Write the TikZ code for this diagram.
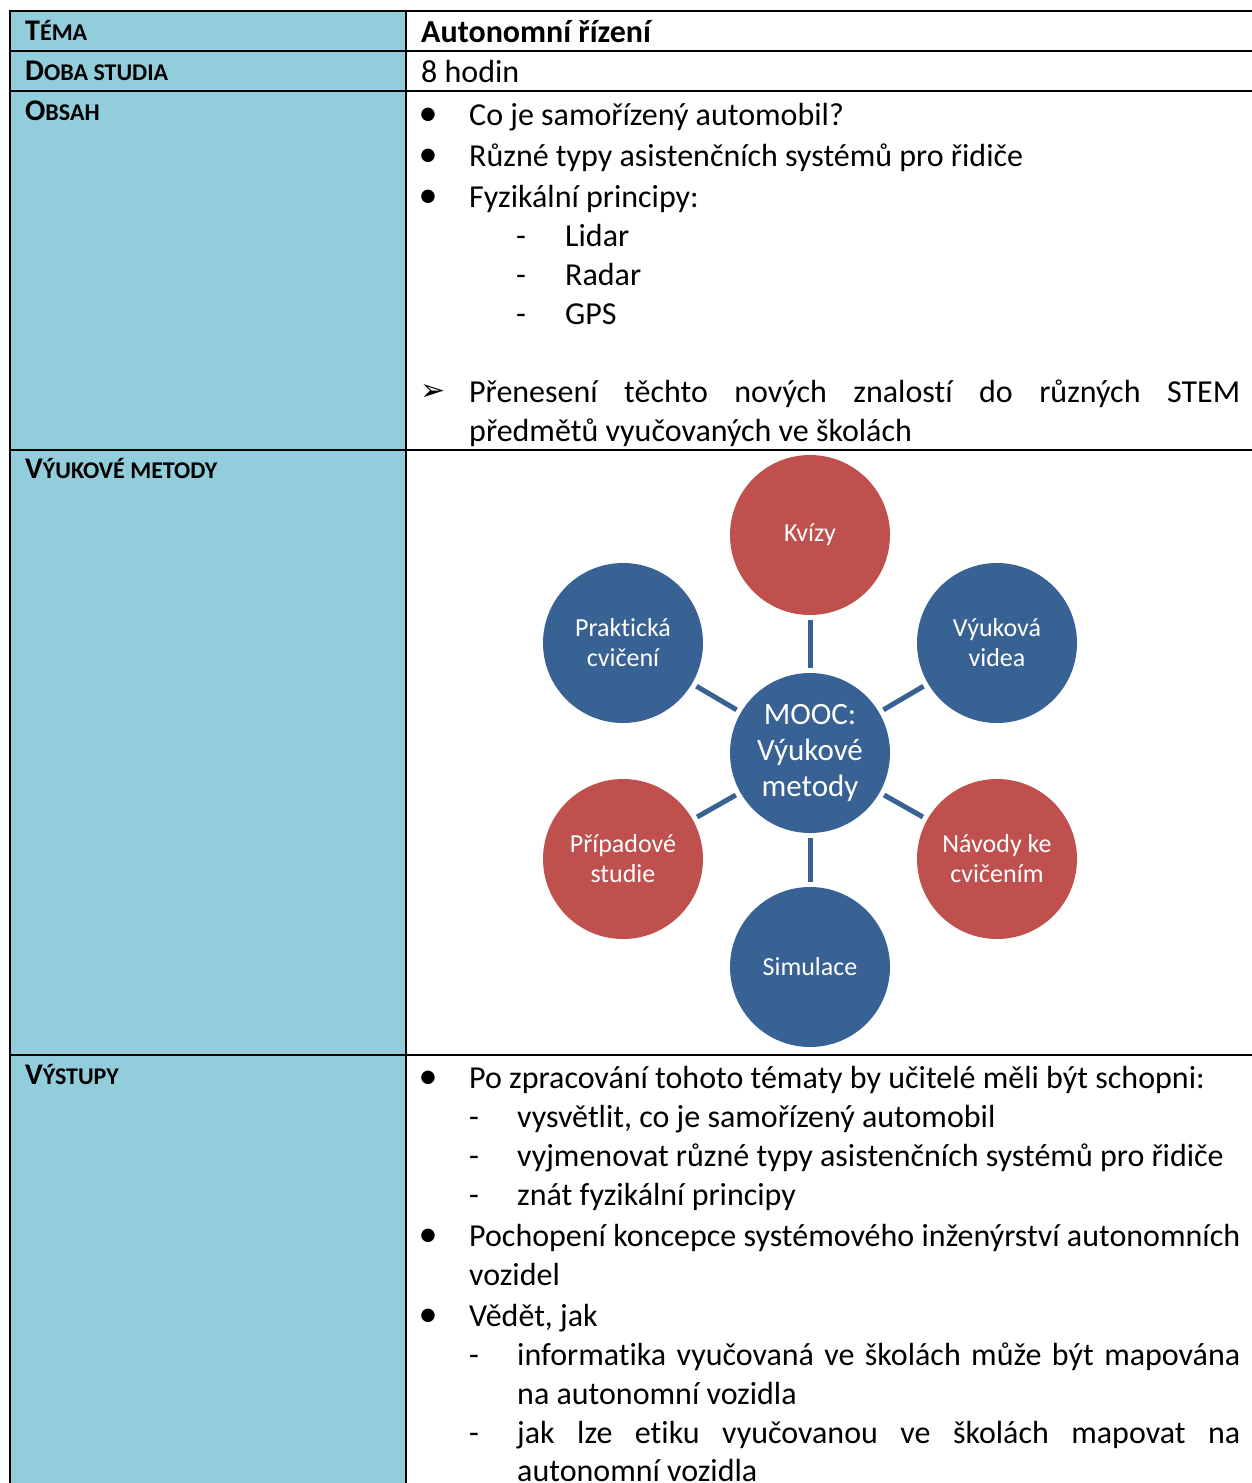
\documentclass[tikz,border=0pt]{standalone}
\usepackage{fontspec}
\setmainfont{Carlito}[Ligatures=NoCommon]
\newfontfamily\dingfont{DejaVu Sans}
\definecolor{cellblue}{HTML}{92CDDC}
\definecolor{nodeblue}{HTML}{386194}
\definecolor{nodered}{HTML}{C0504D}
% fake small caps for the row headings
\newcommand\smc[2]{{\fontsize{30}{36}\selectfont #1}{\fontsize{24}{30}\selectfont #2}}
\begin{document}
\begin{tikzpicture}[x=1pt,y=-1pt,
  body/.style={anchor=base west, inner sep=0pt, font=\fontsize{32}{39}\selectfont},
  lab/.style={anchor=base west, inner sep=0pt, font=\bfseries},
  bul/.style={anchor=base, inner sep=0pt, font=\fontsize{38}{39}\selectfont},
  dsh/.style={anchor=base, inner sep=0pt, font=\fontsize{32}{39}\selectfont},
  method/.style={circle, minimum size=160pt, inner sep=0pt, text=white, align=center,
    font=\fontsize{26}{30}\selectfont},
  bluem/.style={method, fill=nodeblue},
  redm/.style={method, fill=nodered},
  hub/.style={method, fill=nodeblue, font=\fontsize{31}{36}\selectfont},
  link/.style={line width=5pt, draw=nodeblue, shorten <=5pt, shorten >=5pt},
  rule/.style={line width=2pt, draw=black}
]
\useasboundingbox (0,0) rectangle (1252,1483);
\clip (0,0) rectangle (1252,1483);

% table background and rules
\fill[cellblue] (10,11) rectangle (406,1483);
\foreach \yy in {11,51,91,450,1055}
  \draw[rule] (9,\yy) -- (1252,\yy);
\draw[rule] (10,10) -- (10,1483);
\draw[rule] (406,11) -- (406,1483);

% row headings
\node[lab] (hTema)  at (25,40)   {\smc{T}{ÉMA}};
\node[lab] (hDoba)  at (25,80)   {\smc{D}{OBA STUDIA}};
\node[lab] (hObsah) at (25,120)  {\smc{O}{BSAH}};
\node[lab] (hMet)   at (25,478)  {\smc{V}{ÝUKOVÉ METODY}};
\node[lab] (hVys)   at (25,1084) {\smc{V}{ÝSTUPY}};

% topic and duration
\node[body, font=\fontsize{32}{39}\selectfont\bfseries] (tema) at (421,42) {Autonomní řízení};
\node[body] (doba) at (421,82) {8 hodin};

% contents
\node[bul] (b1) at (428,125) {•};
\node[body] (o1) at (469,125) {Co je samořízený automobil?};
\node[bul] (b2) at (428,166) {•};
\node[body] (o2) at (469,166) {Různé typy asistenčních systémů pro řidiče};
\node[bul] (b3) at (428,207) {•};
\node[body] (o3) at (469,207) {Fyzikální principy:};
\node[dsh] (d1) at (521,246) {-};
\node[body] (o4) at (565,246) {Lidar};
\node[dsh] (d2) at (521,285) {-};
\node[body] (o5) at (565,285) {Radar};
\node[dsh] (d3) at (521,324) {-};
\node[body] (o6) at (565,324) {GPS};
\node[anchor=base, inner sep=0pt, font=\dingfont\fontsize{30}{36}\selectfont] (ar) at (433,400) {➢};
\node[body] (o7) at (469,402) {\makebox[771pt][s]{Přenesení těchto nových znalostí do různých STEM}};
\node[body] (o8) at (469,441) {předmětů vyučovaných ve školách};

% teaching methods
\node[hub]   (hub)   at (810,753) {MOOC:\\Výukové\\metody};
\node[redm]  (kviz)  at (810,535) {Kvízy};
\node[bluem] (prak)  at (623,643) {Praktická\\cvičení};
\node[bluem] (video) at (997,643) {Výuková\\videa};
\node[redm]  (pripad) at (623,859) {Případové\\studie};
\node[redm]  (navod) at (997,859) {Návody ke\\cvičením};
\node[bluem] (sim)   at (810,967) {Simulace};
\foreach \m in {kviz,prak,video,pripad,navod,sim}
  \draw[link] (hub) -- (\m);

% outcomes
\node[bul] (c1) at (428,1088) {•};
\node[body] (v1) at (469,1088) {Po zpracování tohoto tématy by učitelé měli být schopni:};
\node[dsh] (e1) at (474,1127) {-};
\node[body] (v2) at (517,1127) {vysvětlit, co je samořízený automobil};
\node[dsh] (e2) at (474,1166) {-};
\node[body] (v3) at (517,1166) {vyjmenovat různé typy asistenčních systémů pro řidiče};
\node[dsh] (e3) at (474,1205) {-};
\node[body] (v4) at (517,1205) {znát fyzikální principy};
\node[bul] (c2) at (428,1246) {•};
\node[body] (v5) at (469,1246) {\makebox[771pt][s]{Pochopení koncepce systémového inženýrství autonomních}};
\node[body] (v6) at (469,1285) {vozidel};
\node[bul] (c3) at (428,1326) {•};
\node[body] (v7) at (469,1326) {Vědět, jak};
\node[dsh] (e4) at (474,1365) {-};
\node[body] (v8) at (517,1365) {\makebox[723pt][s]{informatika vyučovaná ve školách může být mapována}};
\node[body] (v9) at (517,1404) {na autonomní vozidla};
\node[dsh] (e5) at (474,1443) {-};
\node[body] (v10) at (517,1443) {\makebox[723pt][s]{jak lze etiku vyučovanou ve školách mapovat na}};
\node[body] (v11) at (517,1481) {autonomní vozidla};
\end{tikzpicture}
\end{document}
